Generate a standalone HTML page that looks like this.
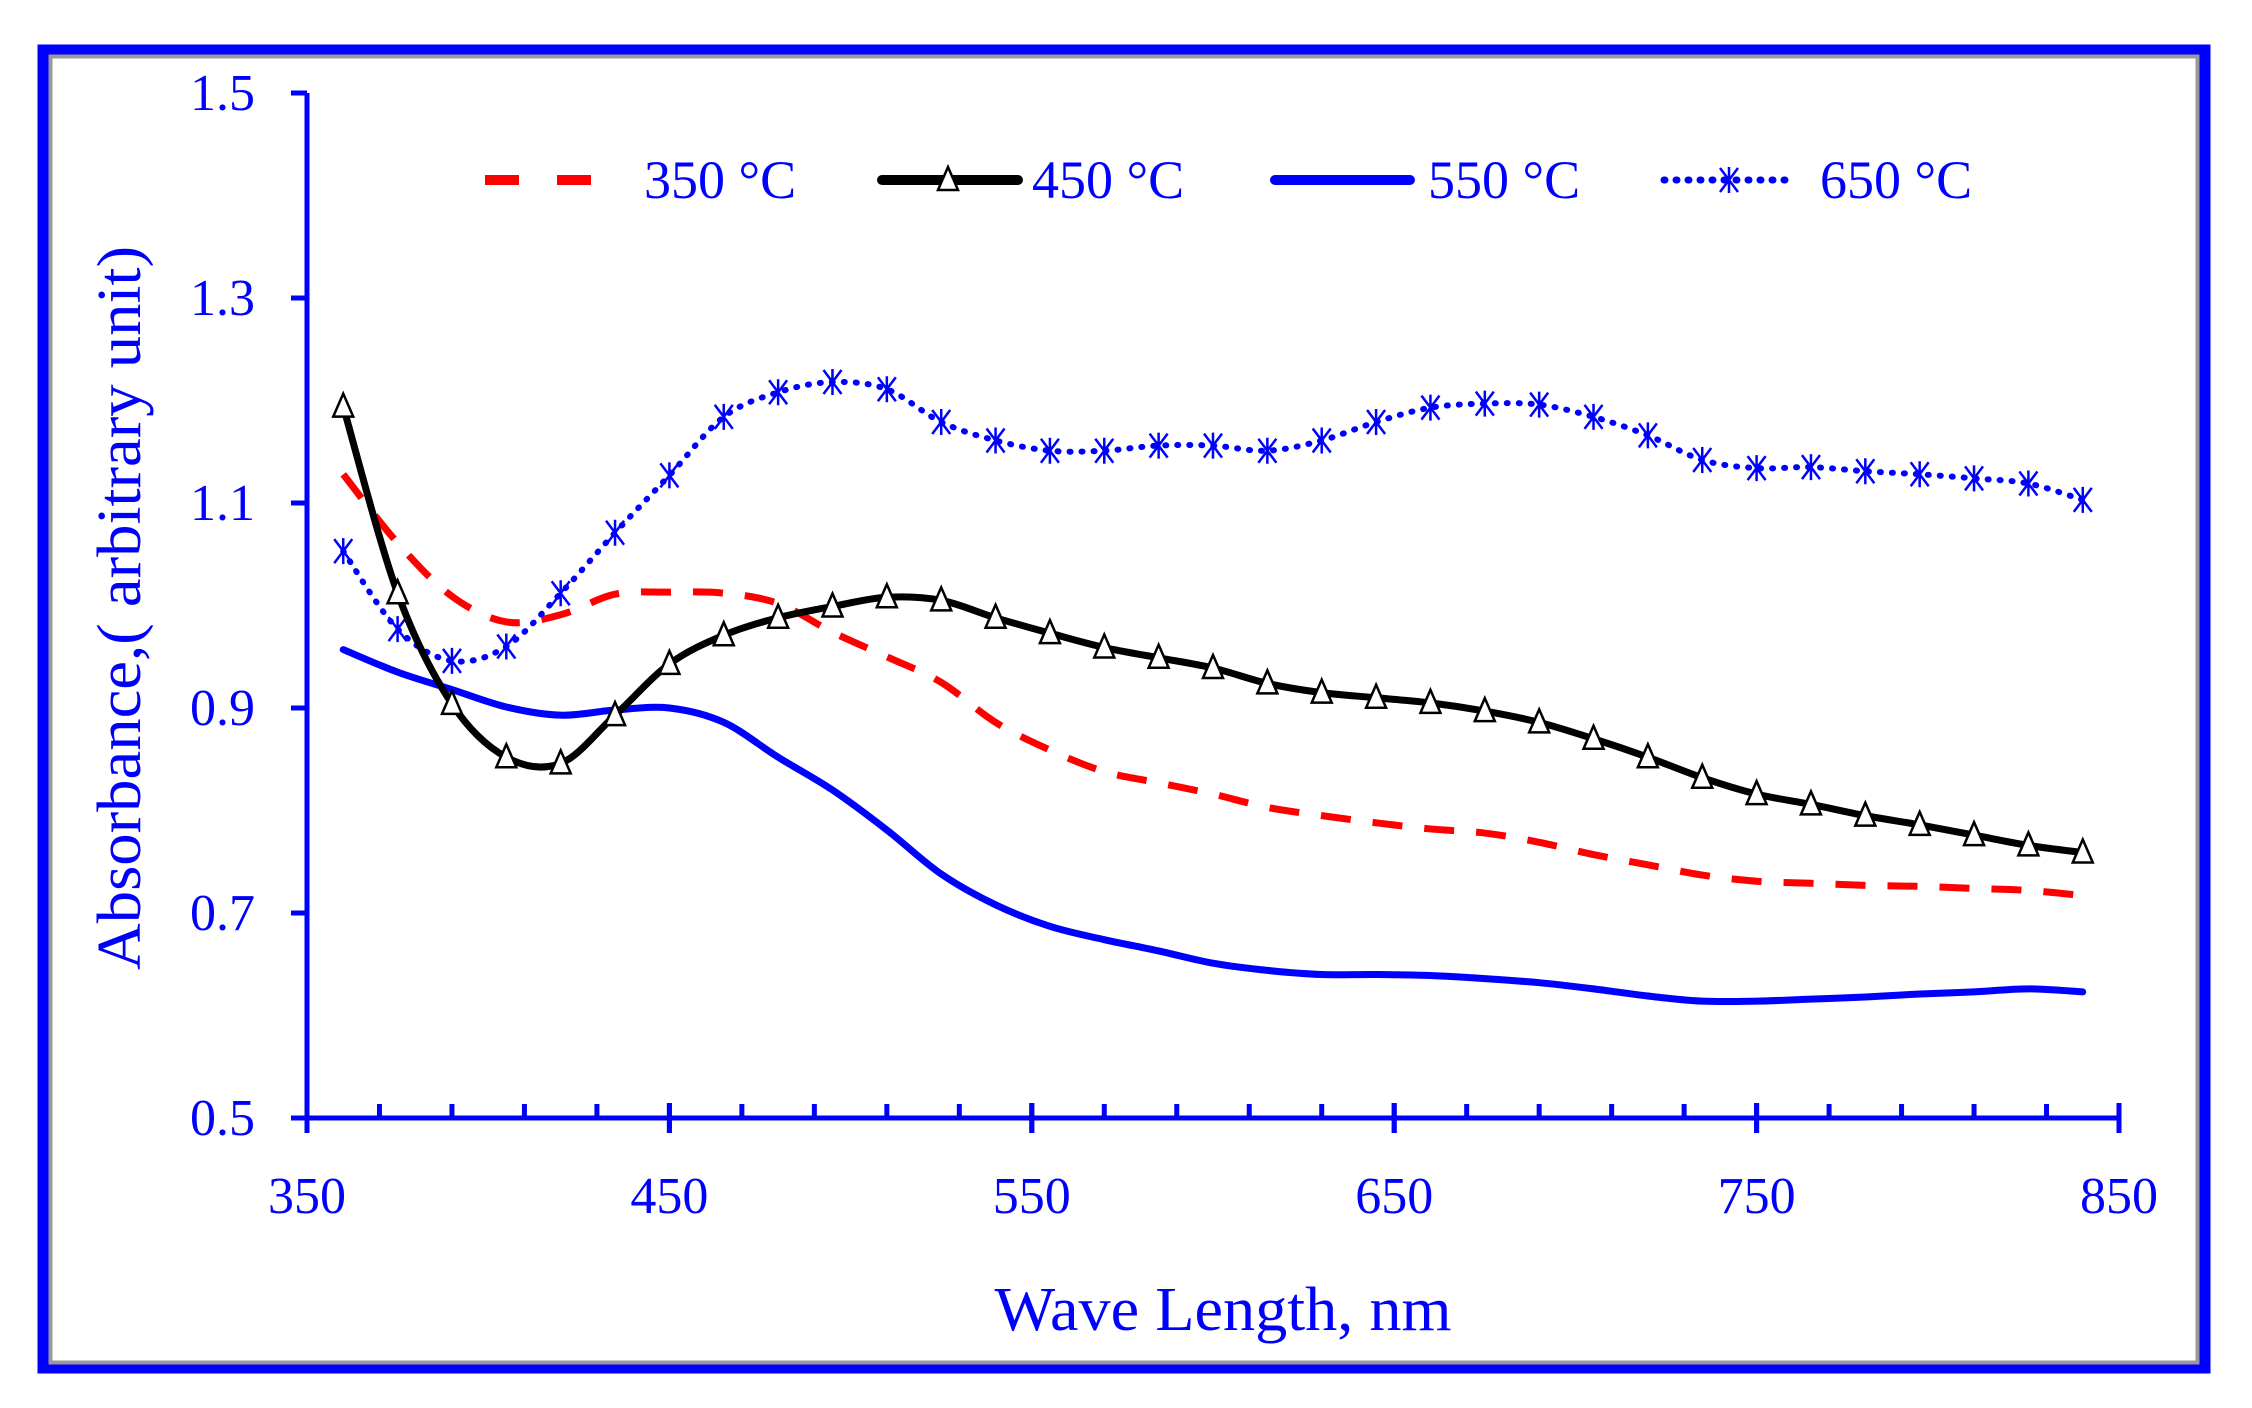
<!DOCTYPE html>
<html><head><meta charset="utf-8"><style>
html,body{margin:0;padding:0;background:#fff;}
svg{display:block;}
text{font-family:"Liberation Serif",serif;fill:#0000ff;}
</style></head><body>
<svg id="chart" width="2252" height="1408" viewBox="0 0 2252 1408">
<rect x="43" y="50" width="2162" height="1318" fill="#fff" stroke="#0000ff" stroke-width="11"/>
<rect x="50.5" y="56.5" width="2147" height="1306" fill="none" stroke="#999" stroke-width="4"/>
<g id="axes"></g>
<g id="series"></g>
<g id="legend"></g>
<text x="1223" y="1330" font-size="62" text-anchor="middle" textLength="457" lengthAdjust="spacingAndGlyphs">Wave Length, nm</text>
<text transform="translate(140,608) rotate(-90)" font-size="62" text-anchor="middle" textLength="724" lengthAdjust="spacingAndGlyphs">Absorbance,( arbitrary unit)</text>
</svg>
<script>
const xValues=[360,375,390,405,420,435,450,465,480,495,510,525,540,555,570,585,600,615,630,645,660,675,690,705,720,735,750,765,780,795,810,825,840];
const s350=[1.128,1.061,1.009,0.984,0.991,1.011,1.013,1.012,1.002,0.974,0.950,0.925,0.886,0.859,0.838,0.827,0.816,0.803,0.795,0.788,0.782,0.778,0.769,0.757,0.747,0.737,0.731,0.729,0.727,0.726,0.724,0.722,0.717];
const s450=[1.194,1.012,0.904,0.852,0.846,0.893,0.943,0.971,0.988,0.999,1.008,1.005,0.988,0.973,0.959,0.949,0.939,0.924,0.915,0.910,0.905,0.897,0.886,0.870,0.852,0.832,0.816,0.806,0.795,0.786,0.776,0.766,0.759];
const s550=[0.957,0.935,0.918,0.901,0.893,0.898,0.900,0.886,0.852,0.820,0.781,0.738,0.708,0.687,0.674,0.663,0.651,0.644,0.640,0.640,0.639,0.636,0.632,0.626,0.619,0.614,0.614,0.616,0.618,0.621,0.623,0.626,0.623];
const s650=[1.053,0.977,0.946,0.960,1.012,1.071,1.127,1.184,1.208,1.218,1.211,1.179,1.161,1.151,1.151,1.156,1.156,1.151,1.161,1.179,1.193,1.197,1.196,1.184,1.166,1.142,1.134,1.135,1.131,1.128,1.124,1.119,1.103];
const xTicks=[350,450,550,650,750,850];
const yTicks=[0.5,0.7,0.9,1.1,1.3,1.5];
const yTickLabels=["0.5","0.7","0.9","1.1","1.3","1.5"];
const legendLabels=["350 °C","450 °C","550 °C","650 °C"];

const NS="http://www.w3.org/2000/svg";
const X0=307,X1=2119,Y0=1118,Y1=93;
function sx(v){return X0+(v-350)/500*(X1-X0);}
function sy(v){return Y0-(v-0.5)/1.0*(Y0-Y1);}
function mk(tag,attrs,parent){const e=document.createElementNS(NS,tag);for(const k in attrs)e.setAttribute(k,attrs[k]);parent.appendChild(e);return e;}
const axes=document.getElementById('axes');
let l=mk('line',{x1:X0,y1:Y1,x2:X0,y2:Y0+15,stroke:'#0000ff','stroke-width':5},axes);


l=mk('line',{x1:X0-15,y1:Y0,x2:X1+2,y2:Y0,stroke:'#0000ff','stroke-width':5},axes);


yTicks.forEach((v,i)=>{
  const t=mk('line',{x1:X0-16,y1:sy(v),x2:X0,y2:sy(v),stroke:'#0000ff','stroke-width':5},axes);
  
  
  const tx=mk('text',{x:255,y:sy(v)+17,'font-size':52,'text-anchor':'end'},axes);
  tx.textContent=yTickLabels[i];
  
  
});
for(let v=350;v<=850;v+=20){
  const major=(v-350)%100===0;
  const t=mk('line',{x1:sx(v),y1:Y0-(major?15:14),x2:sx(v),y2:Y0+(major?15:0),stroke:'#0000ff','stroke-width':5},axes);
  
  
}
xTicks.forEach(v=>{
  const t=mk('line',{x1:sx(v),y1:Y0-15,x2:sx(v),y2:Y0+15,stroke:'#0000ff','stroke-width':5},axes);
  
  
  const tx=mk('text',{x:sx(v),y:1213,'font-size':52,'text-anchor':'middle'},axes);
  tx.textContent=String(v);
  
  
});
function smoothPath(ys){
  const p=xValues.map((x,i)=>[sx(x),sy(ys[i])]);
  let d='M'+p[0][0]+','+p[0][1];
  for(let i=0;i<p.length-1;i++){
    const p0=p[Math.max(0,i-1)],p1=p[i],p2=p[i+1],p3=p[Math.min(p.length-1,i+2)];
    const c1=[p1[0]+(p2[0]-p0[0])/6,p1[1]+(p2[1]-p0[1])/6];
    const c2=[p2[0]-(p3[0]-p1[0])/6,p2[1]-(p3[1]-p1[1])/6];
    d+=' C'+c1+' '+c2+' '+p2;
  }
  return d;
}
const sg=document.getElementById('series');
function tri(g,x,y){
  const t=mk('polygon',{points:`${x},${y-13} ${x-10},${y+10} ${x+10},${y+10}`,fill:'#fff',stroke:'#000','stroke-width':2.5},g);
  
  
}
function star(g,x,y){
  const s=mk('path',{d:`M${x-9},${y-12} L${x+9},${y+12} M${x+9},${y-12} L${x-9},${y+12} M${x},${y-13} L${x},${y+13}`,stroke:'#0000ff','stroke-width':2.5,fill:'none'},g);
  
  
}
let p=mk('path',{d:smoothPath(s550),stroke:'#0000ff','stroke-width':7,fill:'none','stroke-linecap':'round'},sg);


p=mk('path',{d:smoothPath(s350),stroke:'#ff0000','stroke-width':7,fill:'none','stroke-dasharray':'30 22'},sg);


p=mk('path',{d:smoothPath(s650),stroke:'#0000ff','stroke-width':6,fill:'none','stroke-dasharray':'1 11','stroke-linecap':'round'},sg);


const g650=mk('g',{},sg);


xValues.forEach((x,i)=>star(g650,sx(x),sy(s650[i])));
p=mk('path',{d:smoothPath(s450),stroke:'#000','stroke-width':7,fill:'none','stroke-linecap':'round'},sg);


const g450=mk('g',{},sg);


xValues.forEach((x,i)=>tri(g450,sx(x),sy(s450[i])));
const lg=document.getElementById('legend');
const LY=180;
let e=mk('line',{x1:485,y1:LY,x2:593,y2:LY,stroke:'#ff0000','stroke-width':10,'stroke-dasharray':'34 38'},lg);


e=mk('line',{x1:882,y1:LY,x2:1018,y2:LY,stroke:'#000','stroke-width':10,'stroke-linecap':'round'},lg);


tri(lg,948,LY);
e=mk('line',{x1:1275,y1:LY,x2:1410,y2:LY,stroke:'#0000ff','stroke-width':10,'stroke-linecap':'round'},lg);


e=mk('line',{x1:1664,y1:LY,x2:1796,y2:LY,stroke:'#0000ff','stroke-width':7,'stroke-dasharray':'1 11','stroke-linecap':'round'},lg);


star(lg,1729,LY);
const lx=[644,1032,1428,1820];
legendLabels.forEach((t,i)=>{
  const tx=mk('text',{x:lx[i],y:LY+18,'font-size':54},lg);
  tx.textContent=t;
  
  
});
</script>
</body></html>
